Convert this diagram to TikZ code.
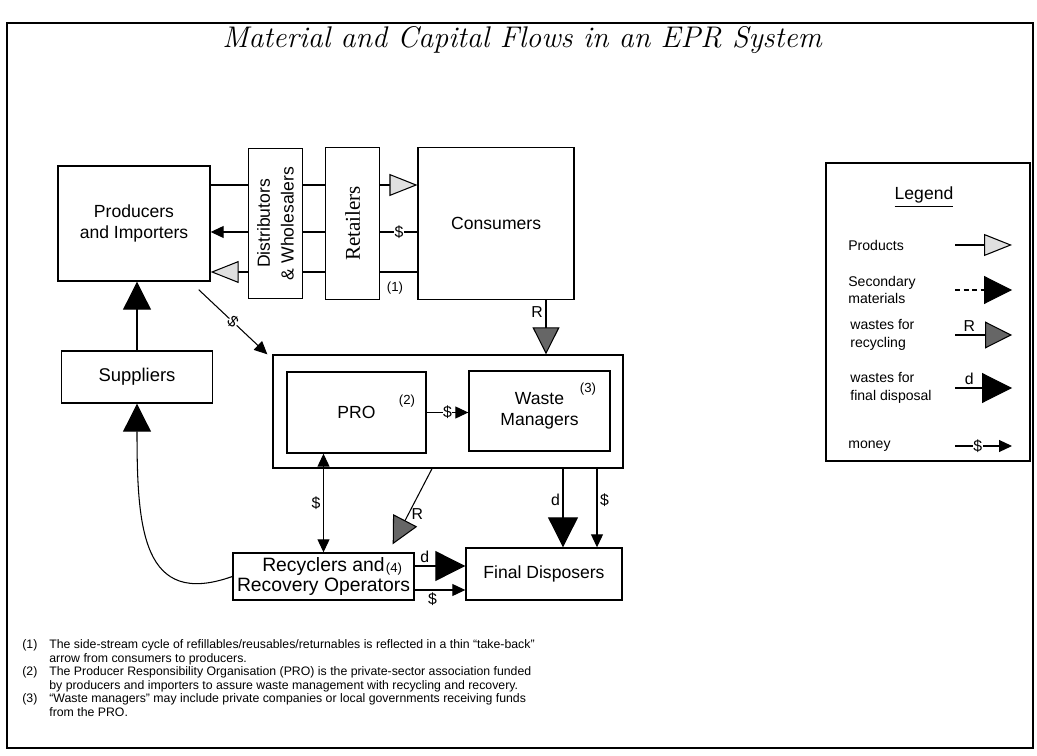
\documentclass[tikz,border=0pt]{standalone}
\usepackage{fontspec}
\setsansfont{Liberation Sans}
\newfontfamily\retailfont{Liberation Serif}
\usetikzlibrary{positioning,arrows.meta}

\begin{document}
\begin{tikzpicture}[
x=0.02cm, y=-0.02cm,
node distance=4mm,
box/.style={
    rectangle,
    draw,
    line width=0.8pt,
    inner sep=1pt,
    align=center,
    font=\sffamily\fontsize{10}{12}\selectfont
},
prodtip/.tip={Triangle[length=5.6mm,width=4.4mm,fill=black!12]},
sectip/.tip={Triangle[length=5.6mm,width=5.6mm]},
rectip/.tip={Triangle[length=5.4mm,width=5.4mm,fill=black!60]},
disptip/.tip={Triangle[length=6mm,width=6mm]},
cashtip/.tip={Triangle[length=2.6mm,width=2.4mm]},
flow/.style={line width=0.6pt},
product/.style={flow,-prodtip},
secondary/.style={flow,-sectip},
recycle/.style={flow,-rectip},
disposal/.style={flow,-disptip},
money/.style={flow,-cashtip},
tag/.style={font=\sffamily\fontsize{9}{10}\selectfont,inner sep=1.5pt},
onlinetag/.style={tag,fill=white,inner sep=0.3pt},
note/.style={font=\sffamily\fontsize{7.5}{8}\selectfont,inner sep=0pt},
keytext/.style={anchor=west,align=left,inner sep=0pt,font=\sffamily\fontsize{8}{10}\selectfont}
]
\useasboundingbox (0,0) rectangle (1037,756);
\draw[line width=0.8pt] (7,23) rectangle (1033,748);

\node[font=\fontsize{17}{20}\selectfont\itshape] (title) at (522,40) {Material and Capital Flows in an EPR System};

% supply chain
\node[box,minimum width=3.04cm,minimum height=2.3cm] (prod) at (134,223.5) {Producers\\and Importers};
\node[box,right=0.74cm of prod,minimum width=1.08cm,minimum height=3cm] (dist) {};
\node[box,right=0.44cm of dist,minimum width=1.08cm,minimum height=3.04cm] (ret) {};
\node[box,right=0.74cm of ret,minimum width=3.12cm,minimum height=3.04cm] (cons) {Consumers};
\node[rotate=90,align=center,font=\sffamily\fontsize{10}{13.5}\selectfont] (distlbl) at (dist) {Distributors\\\& Wholesalers};
\node[rotate=90,font=\retailfont\fontsize{12}{14}\selectfont] (retlbl) at (ret) {Retailers};
\node[note] (n1) at (395,288) {(1)};

\coordinate (lvlA) at (0,185);
\coordinate (lvlB) at (0,232);
\coordinate (lvlC) at (0,272);

\draw[flow] (prod.east |- lvlA) -- (dist.west |- lvlA);
\draw[flow] (dist.east |- lvlA) -- (ret.west |- lvlA);
\draw[product] (ret.east |- lvlA) -- (cons.west |- lvlA);
\draw[flow] (cons.west |- lvlB) -- node[onlinetag]{\$} (ret.east |- lvlB);
\draw[flow] (ret.west |- lvlB) -- (dist.east |- lvlB);
\draw[money] (dist.west |- lvlB) -- (prod.east |- lvlB);
\draw[flow] (cons.west |- lvlC) -- (ret.east |- lvlC);
\draw[flow] (ret.west |- lvlC) -- (dist.east |- lvlC);
\draw[product] (dist.west |- lvlC) -- (prod.east |- lvlC);

% suppliers
\node[box,minimum width=3.02cm,minimum height=1.04cm,font=\sffamily\fontsize{10.5}{12}\selectfont] (sup) at (137,377) {Suppliers};
\draw[secondary] (sup.north) -- (sup.north |- prod.south);

% PRO and waste managers
\node[box,minimum width=7cm,minimum height=2.26cm] (grp) at (448,411.5) {};
\node[box,minimum width=2.78cm,minimum height=1.62cm] (pro) at (356.5,412.5) {PRO};
\node[box,minimum width=2.82cm,minimum height=1.6cm] (wm) at (539.5,411) {Waste\\Managers};
\node[note] (n2) at (407,401) {(2)};
\node[note] (n3) at (588,389) {(3)};
\draw[money] (pro.east) -- node[onlinetag]{\$} (pro.east -| wm.west);

\draw[money] ([xshift=-0.24cm,yshift=-0.16cm]prod.south east) -- node[onlinetag,sloped]{\$} ([xshift=-0.1cm]grp.north west);
\coordinate (rcol) at (546,0);
\draw[recycle] (cons.south -| rcol) -- node[tag,pos=0.22,left]{R} (grp.north -| rcol);

% recovery and disposal
\node[box,minimum width=3.62cm,minimum height=0.94cm,inner sep=0pt,font=\sffamily\fontsize{11}{11.5}\selectfont] (rec) at (323.5,576.5) {Recyclers and\\Recovery Operators};
\node[note] (n4) at (394,569) {(4)};
\node[box,minimum width=3.12cm,minimum height=1.04cm] (fd) at (544,574) {Final Disposers};

\draw[flow,cashtip-cashtip] (rec.north) -- node[tag,left]{\$} (rec.north |- pro.south);
\draw[recycle] ([xshift=-0.32cm]grp.south) -- node[tag,pos=0.6,right]{R} ([xshift=-0.44cm,yshift=0.16cm]rec.north east);

\coordinate (dcol) at (563,0);
\coordinate (scol) at (597,0);
\draw[disposal] (grp.south -| dcol) -- node[tag,pos=0.4,left]{d} (fd.north -| dcol);
\draw[money] (grp.south -| scol) -- node[tag,pos=0.4,right]{\$} (fd.north -| scol);

\coordinate (dlvl) at (0,566);
\coordinate (slvl) at (0,590);
\draw[disposal] (rec.east |- dlvl) -- node[tag,pos=0.2,above]{d} (fd.west |- dlvl);
\draw[money] (rec.east |- slvl) -- node[tag,pos=0.35,below]{\$} (fd.west |- slvl);

\draw[secondary] (rec.west) .. controls +(-90,32) and +(0,125) .. (sup.south);

% legend
\node[box,minimum width=4.08cm,minimum height=5.96cm] (lgd) at (928,312) {};
\node[font=\sffamily\fontsize{10}{12}\selectfont] (lgdtitle) at (924,197) {\underline{Legend}};
\node[keytext] (kprod) at (848,245) {Products};
\node[keytext] (ksec) at (848,290) {Secondary\\materials};
\node[keytext] (krec) at (850,335) {wastes for\\recycling};
\node[keytext] (kdisp) at (850,388) {wastes for\\final disposal};
\node[keytext] (kmon) at (848,446) {money};

\coordinate (kbeg) at (955,0);
\coordinate (kend) at (1012,0);
\draw[product] (kprod -| kbeg) -- (kprod -| kend);
\draw[secondary,dash pattern=on 1mm off 0.7mm] (ksec -| kbeg) -- (ksec -| kend);
\draw[recycle] (krec -| kbeg) -- node[tag,pos=0.25,above]{R} (krec -| kend);
\draw[disposal] (kdisp -| kbeg) -- node[tag,pos=0.25,above]{d} (kdisp -| kend);
\draw[money] (kmon -| kbeg) -- node[onlinetag,pos=0.4]{\$} (kmon -| kend);

% footnotes
\node[anchor=north west,inner sep=0pt,font=\sffamily\fontsize{7}{7.7}\selectfont] (notes) at (22,639) {%
\begin{tabular}{@{}l@{\hspace{2.4mm}}l@{}}
(1) & The side-stream cycle of refillables/reusables/returnables is reflected in a thin “take-back”\\
 & arrow from consumers to producers.\\
(2) & The Producer Responsibility Organisation (PRO) is the private-sector association funded\\
 & by producers and importers to assure waste management with recycling and recovery.\\
(3) & “Waste managers” may include private companies or local governments receiving funds\\
 & from the PRO.
\end{tabular}};

\end{tikzpicture}
\end{document}
